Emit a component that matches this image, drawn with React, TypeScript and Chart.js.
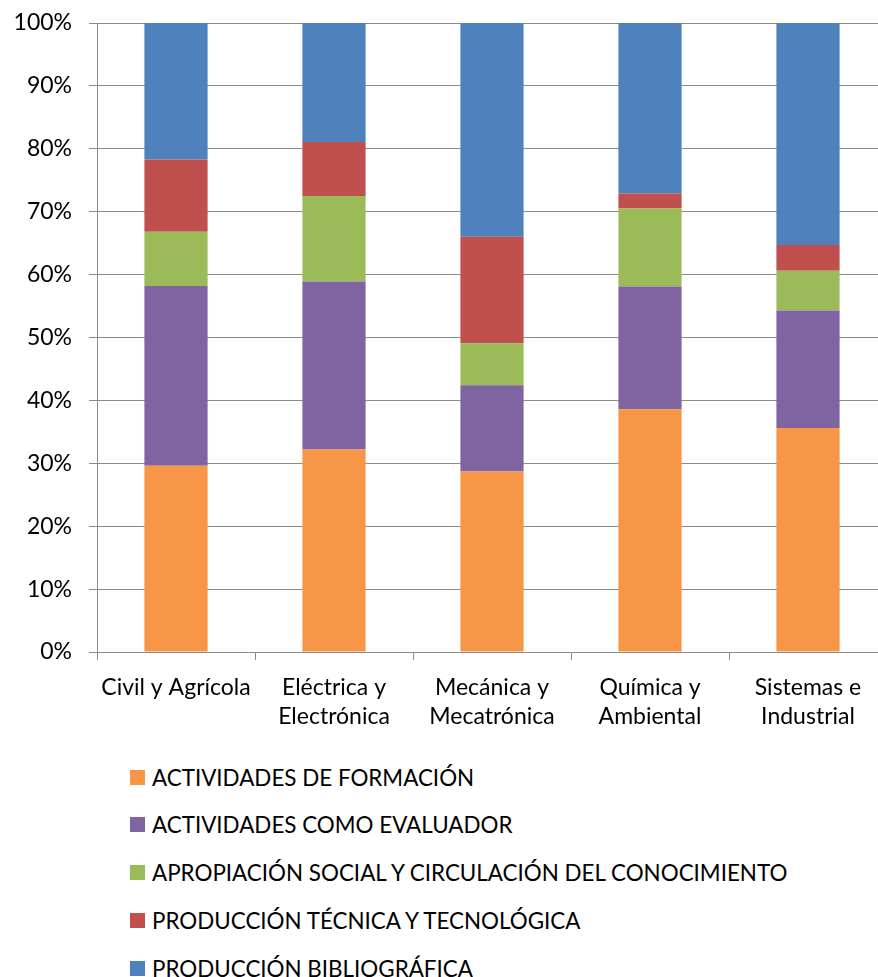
import React, { useEffect, useRef } from "react";
import { Chart, registerables } from "chart.js";

Chart.register(...registerables);

const categories: string[][] = [
  ["Civil y Agrícola"],
  ["Eléctrica y", "Electrónica"],
  ["Mecánica y", "Mecatrónica"],
  ["Química y", "Ambiental"],
  ["Sistemas e", "Industrial"],
];

const seriesNames = [
  "ACTIVIDADES DE FORMACIÓN",
  "ACTIVIDADES COMO EVALUADOR",
  "APROPIACIÓN SOCIAL Y CIRCULACIÓN DEL CONOCIMIENTO",
  "PRODUCCIÓN TÉCNICA Y TECNOLÓGICA",
  "PRODUCCIÓN BIBLIOGRÁFICA",
];

const formacion = [29.6, 32.2, 28.7, 38.6, 35.6];
const evaluador = [28.6, 26.7, 13.7, 19.5, 18.7];
const apropiacion = [8.6, 13.6, 6.7, 12.4, 6.3];
const tecnica = [11.5, 8.6, 16.9, 2.4, 4.1];
const bibliografica = [21.7, 18.9, 34.0, 27.1, 35.3];

const colors = ["#F79646", "#8064A2", "#9BBB59", "#C0504D", "#4F81BD"];

const FONT = "Lato";

export default function App() {
  const ref = useRef<HTMLCanvasElement | null>(null);

  useEffect(() => {
    if (!ref.current) return;
    const series = [formacion, evaluador, apropiacion, tecnica, bibliografica];
    const chart = new Chart(ref.current, {
      type: "bar",
      data: {
        labels: categories,
        datasets: series.map((d, i) => ({
          label: seriesNames[i],
          data: d,
          backgroundColor: colors[i],
          borderWidth: 0,
          categoryPercentage: 1,
          barPercentage: 0.4,
        })),
      },
      options: {
        animation: false,
        responsive: false,
        maintainAspectRatio: false,
        layout: { padding: { top: 23, right: 3, bottom: 0, left: 0 } },
        plugins: {
          legend: { display: false },
          tooltip: { enabled: false },
        },
        scales: {
          x: {
            stacked: true,
            grid: {
              offset: true,
              drawOnChartArea: false,
              drawTicks: true,
              tickLength: 8,
              color: "#8c8c8c",
            },
            border: { color: "#8c8c8c", width: 1 },
            ticks: {
              color: "#000",
              padding: 13,
              maxRotation: 0,
              autoSkip: false,
              font: { family: FONT, size: 23, lineHeight: 1.25 },
            },
            afterFit: (s: any) => {
              s.height = 108;
              s.paddingLeft = 0;
              s.paddingRight = 0;
            },
          },
          y: {
            stacked: true,
            min: 0,
            max: 100,
            grid: {
              color: "#8c8c8c",
              tickLength: 8,
              drawTicks: true,
            },
            border: { color: "#8c8c8c", width: 1 },
            ticks: {
              stepSize: 10,
              color: "#000",
              padding: 17,
              font: { family: FONT, size: 23 },
              callback: (v: any) => v + "%",
            },
            afterFit: (s: any) => {
              s.width = 97;
              s.paddingTop = 0;
              s.paddingBottom = 0;
            },
          },
        },
      },
    });
    return () => chart.destroy();
  }, []);

  const rowTops = [777, 824, 872, 920, 968];

  return (
    <div
      style={{
        position: "fixed",
        left: 0,
        top: 0,
        width: 878,
        height: 977,
        overflow: "hidden",
        background: "#fff",
      }}
    >
      <canvas
        ref={ref}
        width={890}
        height={760}
        style={{ position: "absolute", left: 0, top: 0, width: 890, height: 760 }}
      />
      {seriesNames.map((n, i) => (
        <div
          key={n}
          style={{
            position: "absolute",
            left: 130,
            top: rowTops[i] - 15,
            height: 30,
            display: "flex",
            alignItems: "center",
            whiteSpace: "nowrap",
            fontFamily: FONT,
            fontSize: 22.4,
            color: "#000",
          }}
        >
          <span
            style={{
              display: "inline-block",
              width: 15,
              height: 15,
              background: colors[i],
              marginRight: 7,
            }}
          />
          <span>{n}</span>
        </div>
      ))}
    </div>
  );
}
